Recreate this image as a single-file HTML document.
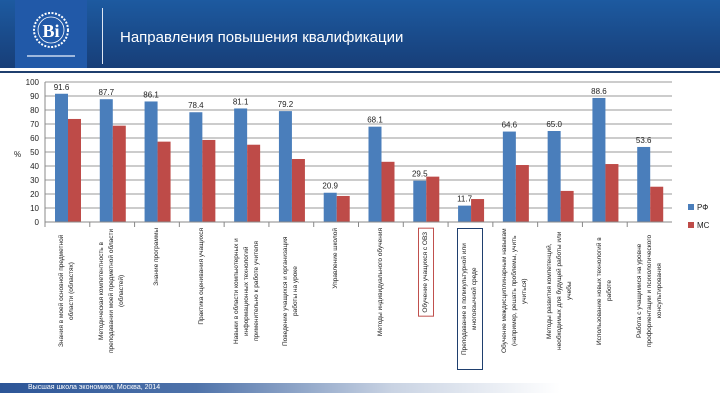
<!DOCTYPE html>
<html><head><meta charset="utf-8"><style>
body{margin:0;width:720px;height:405px;overflow:hidden;background:#fff;font-family:"Liberation Sans","Noto Sans CJK SC",sans-serif;position:relative}
.hdr{position:absolute;left:0;top:0;width:720px;height:68px;background:linear-gradient(180deg,#1d5aa0,#173e78)}
.logo{position:absolute;left:15px;top:0;width:72px;height:70px;background:#2159a8}
.lab{position:absolute;top:228px;height:142px;display:flex;justify-content:center;align-items:flex-start}
.lab span{writing-mode:vertical-rl;transform:rotate(180deg);font-size:6.5px;line-height:10px;text-align:center;color:#222;max-height:126px}
</style></head><body>
<div class="hdr"></div>
<div class="logo">
<svg width="72" height="70"><circle cx="36" cy="30" r="17" fill="none" stroke="#fff" stroke-width="2" stroke-dasharray="2 1.5"/><circle cx="36" cy="30" r="13" fill="none" stroke="#fff" stroke-width="0.8"/><text x="36" y="37" fill="#fff" font-size="18" font-weight="bold" text-anchor="middle" font-family="Liberation Serif">Ві</text><rect x="12" y="55" width="48" height="2" fill="#9fb8dd"/></svg></div>
<div style="position:absolute;left:102px;top:8px;width:1px;height:56px;background:#dfe7f3"></div>
<div style="position:absolute;left:120px;top:29px;color:#fff;font-size:15px">Направления повышения квалификации</div>
<div style="position:absolute;left:0;top:68px;width:720px;height:3px;background:#fff"></div>
<div style="position:absolute;left:0;top:71px;width:720px;height:2px;background:#1f3f6e"></div>
<svg id="ch" width="720" height="405" style="position:absolute;left:0;top:0"></svg>
<div id="labs"></div>
<div style="position:absolute;left:0;top:383px;width:560px;height:10px;background:linear-gradient(90deg,#2c5597,#4f73aa 35%,#c9d3e3 70%,#fff)"></div>
<div style="position:absolute;left:28px;top:383px;font-size:7px;color:#fff;line-height:10px">Высшая школа экономики, Москва, 2014</div>
<script>
const categories=["Знания в моей основной предметной области (областях)","Методическая компетентность в преподавании моей предметной области (областей)","Знание программы","Практика оценивания учащихся","Навыки в области компьютерных и информационных технологий применительно к работе учителя","Поведение учащихся и организация работы на уроке","Управление школой","Методы индивидуального обучения","Обучение учащихся с ОВЗ","Преподавание в поликультурной или многоязычной среде","Обучение междисциплинарным навыкам (например, решать проблемы, учить учиться)","Методы развития компетенций, необходимых для будущей работы или учебы","Использование новых технологий в работе","Работа с учащимися на уровне профориентации и психологического консультирования"];
const rfValues=[91.6,87.7,86.1,78.4,81.1,79.2,20.9,68.1,29.5,11.7,64.6,65.0,88.6,53.6];
const msValues=[73.6,68.8,57.4,58.6,55.2,45,18.6,43,32.4,16.4,40.7,22.2,41.4,25.2];
const yTicks=[0,10,20,30,40,50,60,70,80,90,100];
const NS="http://www.w3.org/2000/svg",svg=document.getElementById('ch');
const x0=45,x1=672,y0=222,y1=82,gw=(x1-x0)/categories.length;
const Y=v=>y0-(v/100)*(y0-y1);
function mk(t,a){const e=document.createElementNS(NS,t);for(const k in a)e.setAttribute(k,a[k]);svg.appendChild(e);return e;}
yTicks.forEach(t=>{
 const l=mk('line',{x1:x0,x2:x1,y1:Y(t),y2:Y(t),stroke:'#9a9a9a','stroke-width':1});
 
 
 const tx=mk('text',{x:x0-6,y:Y(t)+3,'font-size':8,'text-anchor':'end',fill:'#222'});tx.textContent=t;
 
 
});
mk('line',{x1:x0,x2:x0,y1:y1,y2:y0,stroke:'#888'});
const yt=mk('text',{x:14,y:157,'font-size':8,fill:'#222'});yt.textContent='%';


const labs=document.getElementById('labs');
categories.forEach((c,i)=>{
 const gx=x0+i*gw;
 mk('line',{x1:gx,x2:gx,y1:y0,y2:y0+5,stroke:'#888'});
 const b=mk('rect',{x:gx+10,y:Y(rfValues[i]),width:13,height:y0-Y(rfValues[i]),fill:'#4a7ebb'});
 
 
 const r=mk('rect',{x:gx+23,y:Y(msValues[i]),width:13,height:y0-Y(msValues[i]),fill:'#be4b48'});
 
 
 const v=mk('text',{x:gx+16.5,y:Y(rfValues[i])-4,'font-size':8,'text-anchor':'middle',fill:'#222'});v.textContent=rfValues[i].toFixed(1);
 
 
 const d=document.createElement('div');d.className='lab';
 d.style.left=(gx+2)+'px';d.style.width=(gw-4)+'px';
 const s=document.createElement('span');s.textContent=c;
 if(i==8){s.style.border='1px solid #c0504d';s.style.padding='3px 2px';}
 if(i==9){s.style.border='1px solid #1f3f6e';s.style.padding='3px 2px';s.style.maxHeight='136px';}
 d.appendChild(s);
 
 
 labs.appendChild(d);
});
mk('line',{x1:x0,x2:x1,y1:y0,y2:y0,stroke:'#888'});
[['РФ','#4a7ebb',210],['МС','#be4b48',228]].forEach(([n,c,y])=>{
 const s=mk('rect',{x:688,y:y-6,width:6,height:6,fill:c});
 
 
 const t=mk('text',{x:697,y:y,'font-size':8,fill:'#222'});t.textContent=n;
 
 
});
</script>
</body></html>
